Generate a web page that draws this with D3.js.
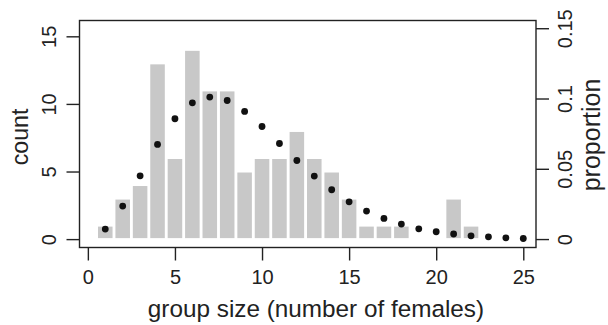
<!DOCTYPE html>
<html>
<head>
<meta charset="utf-8">
<script src="https://cdn.jsdelivr.net/npm/d3@7"></script>
<style>
  html, body { margin: 0; padding: 0; background: #fff; }
  svg { display: block; }
  text { font-family: "Liberation Sans", Arial, Helvetica, sans-serif; fill: #222; }
</style>
</head>
<body>
<svg id="chart" width="608" height="325"></svg>
<script>
// Group sizes (number of females)
const groupSizes = d3.range(1, 26);
// Observed number of groups of each size (bars, left axis)
const counts = [1, 3, 4, 13, 6, 14, 11, 11, 5, 6, 6, 8, 6, 5, 3, 1, 1, 1, 0, 0, 3, 1, 0, 0, 0];
// Expected proportion for each size (points, right axis)
const proportions = [0.0071, 0.0235, 0.045, 0.0673, 0.0856, 0.0969, 0.101, 0.0986, 0.0908, 0.0801,
                     0.068, 0.0559, 0.0448, 0.0351, 0.0265, 0.0199, 0.0147, 0.0107, 0.0073, 0.0052,
                     0.0036, 0.0023, 0.0016, 0.0009, 0.0004];
// Tick values
const xTicks = [0, 5, 10, 15, 20, 25];
const countTicks = [0, 5, 10, 15];
const propTicks = [0, 0.05, 0.1, 0.15];
const propTickLabels = ["0", "0.05", "0.1", "0.15"];

const svg = d3.select("#chart");
const box = { left: 79.5, right: 536, top: 20.5, bottom: 247.5 };
const ink = "#222";

const x = d3.scaleLinear().domain([-0.48, 25.73]).range([box.left, box.right]);
const yCount = d3.scaleLinear().domain([-0.62, 16.17]).range([box.bottom, box.top]);
const yProp = d3.scaleLinear().domain([-0.0060, 0.1555]).range([box.bottom, box.top]);

// Bars: counts
const unit = x(1) - x(0);
svg.append("g").selectAll("rect")
  .data(groupSizes.map((g, i) => ({ g, c: counts[i] })).filter(d => d.c > 0))
  .join("rect")
  .attr("x", d => x(d.g) - unit * 0.475)
  .attr("width", unit * 0.95)
  .attr("y", d => yCount(d.c))
  .attr("height", d => yCount(0) - yCount(d.c))
  .attr("fill", "#c8c8c8")
  .attr("stroke", "#fff")
  .attr("stroke-width", 2);

// Points: proportions
svg.append("g").selectAll("circle")
  .data(groupSizes.map((g, i) => ({ g, p: proportions[i] })))
  .join("circle")
  .attr("cx", d => x(d.g))
  .attr("cy", d => yProp(d.p))
  .attr("r", 3.4)
  .attr("fill", "#111");

// Plot frame
svg.append("rect")
  .attr("x", box.left).attr("y", box.top)
  .attr("width", box.right - box.left).attr("height", box.bottom - box.top)
  .attr("fill", "none").attr("stroke", ink).attr("stroke-width", 1.4);

// Bottom axis
const xAxis = d3.axisBottom(x).tickValues(xTicks).tickSize(13).tickPadding(9).tickSizeOuter(0);
const gx = svg.append("g").attr("transform", `translate(0,${box.bottom})`).call(xAxis);
gx.select(".domain").remove();
gx.selectAll("line").attr("stroke", ink).attr("stroke-width", 1.4);
gx.selectAll("text").attr("font-size", 20).attr("fill", ink);

// Left axis (count), labels rotated
const yAxisL = d3.axisLeft(yCount).tickValues(countTicks).tickSize(13).tickSizeOuter(0);
const gl = svg.append("g").attr("transform", `translate(${box.left},0)`).call(yAxisL);
gl.select(".domain").remove();
gl.selectAll("line").attr("stroke", ink).attr("stroke-width", 1.4);
gl.selectAll("text")
  .attr("font-size", 20).attr("fill", ink)
  .attr("x", null).attr("dy", null)
  .attr("text-anchor", "middle")
  .attr("transform", "translate(-24,0) rotate(-90)");

// Right axis (proportion), labels rotated
const yAxisR = d3.axisRight(yProp).tickValues(propTicks)
  .tickFormat((d, i) => propTickLabels[i]).tickSize(13).tickSizeOuter(0);
const gr = svg.append("g").attr("transform", `translate(${box.right},0)`).call(yAxisR);
gr.select(".domain").remove();
gr.selectAll("line").attr("stroke", ink).attr("stroke-width", 1.4);
gr.selectAll("text")
  .attr("font-size", 20).attr("fill", ink)
  .attr("x", null).attr("dy", null)
  .attr("text-anchor", "middle")
  .attr("transform", "translate(36,0) rotate(-90)");

// Axis titles
svg.append("text")
  .attr("x", 316).attr("y", 317)
  .attr("text-anchor", "middle").attr("font-size", 24.3)
  .text("group size (number of females)");
svg.append("text")
  .attr("transform", "translate(28,137) rotate(-90)")
  .attr("text-anchor", "middle").attr("font-size", 23.2)
  .text("count");
svg.append("text")
  .attr("transform", "translate(600,135) rotate(-90)")
  .attr("text-anchor", "middle").attr("font-size", 25)
  .text("proportion");
</script>
</body>
</html>
